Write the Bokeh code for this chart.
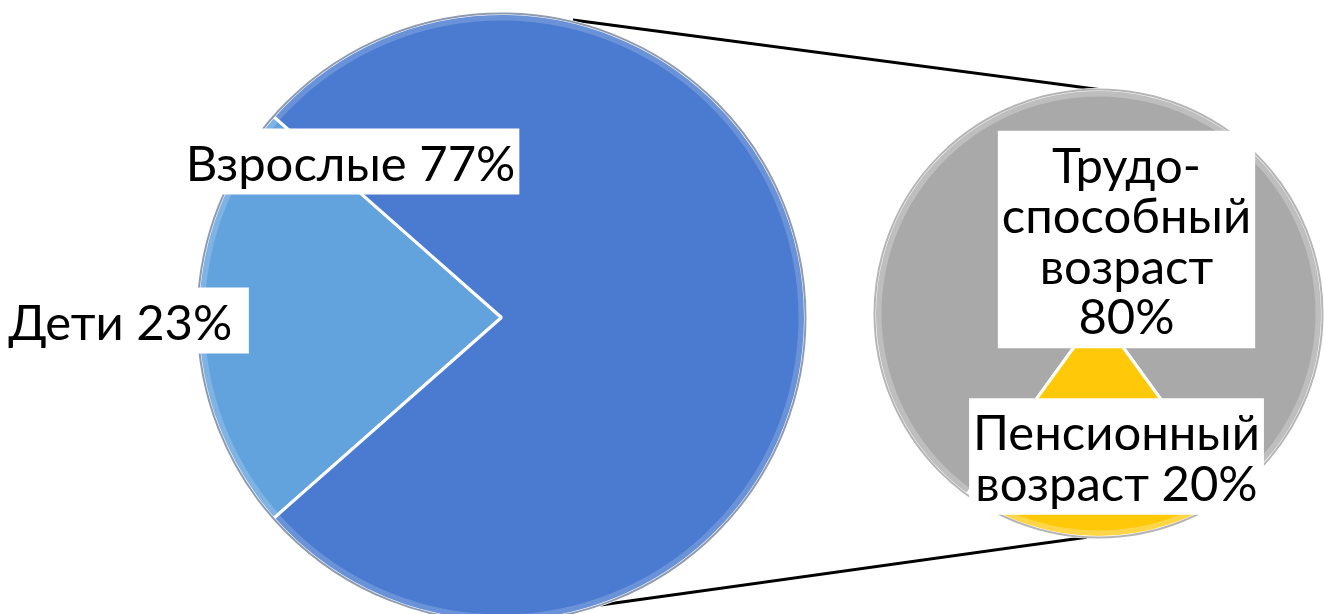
import math
from bokeh.plotting import figure
from bokeh.models import ColumnDataSource, Range1d
from bokeh.core.properties import value
from bokeh.embed import file_html
from bokeh.resources import INLINE

# ---- data ----
main_labels = ["Дети ", "Взрослые"]
main_values = [23, 77]
main_colors = ["#62A3DE", "#4A7BD0"]

sub_labels = ["Трудо-\nспособный\nвозраст\n", "Пенсионный\nвозраст "]
sub_values = [80, 20]
sub_colors = ["#A9A9A9", "#FFC90A"]

# ---- layout ----
W, H = 1324, 614
main_cx, main_cy, main_r = 501, H - 317, 304
sub_cx, sub_cy, sub_r = 1098, H - 313, 224

p = figure(width=W, height=H, output_backend="svg", toolbar_location=None,
           x_range=Range1d(0, W), y_range=Range1d(0, H), min_border=0)
p.axis.visible = False
p.grid.visible = False
p.outline_line_color = None
p.background_fill_color = "white"


def angles(values, first_center_deg):
    total = float(sum(values))
    span0 = values[0] / total * 2 * math.pi
    start = math.radians(first_center_deg) - span0 / 2
    starts, ends = [], []
    for v in values:
        a = v / total * 2 * math.pi
        starts.append(start)
        ends.append(start + a)
        start += a
    return starts, ends


def pt(cx, cy, r, deg):
    return cx + r * math.cos(math.radians(deg)), cy + r * math.sin(math.radians(deg))

# connector lines (behind pies)
t0 = pt(main_cx, main_cy, main_r + 2, 76.5)
t1 = pt(sub_cx, sub_cy, sub_r, 90)
b0 = pt(main_cx, main_cy, main_r, -71)
b1 = pt(sub_cx, sub_cy, sub_r, 267)
p.segment(x0=[t0[0], b0[0]], y0=[t0[1], b0[1]], x1=[t1[0], b1[0]], y1=[t1[1], b1[1]],
          line_color="black", line_width=3)

# main pie
ms, me = angles(main_values, 180)
src_main = ColumnDataSource(dict(start=ms, end=me, color=main_colors))
p.wedge(x=main_cx, y=main_cy, radius=main_r, radius_units="screen",
        start_angle="start", end_angle="end", fill_color="color",
        line_color="white", line_width=3, source=src_main)
p.annular_wedge(x=main_cx, y=main_cy, inner_radius=main_r - 7, outer_radius=main_r,
                inner_radius_units="screen", outer_radius_units="screen",
                start_angle="start", end_angle="end", fill_color="white", fill_alpha=0.18,
                line_color=None, source=src_main)
p.circle(x=[main_cx], y=[main_cy], radius=main_r, radius_units="screen",
         fill_color=None, line_color="#8E9BB0", line_width=2)

# secondary pie
ss, se = angles(sub_values[::-1], 270)
src_sub = ColumnDataSource(dict(start=ss[::-1], end=se[::-1], color=sub_colors))
p.wedge(x=sub_cx, y=sub_cy, radius=sub_r, radius_units="screen",
        start_angle="start", end_angle="end", fill_color="color",
        line_color="white", line_width=3, source=src_sub)
p.annular_wedge(x=sub_cx, y=sub_cy, inner_radius=sub_r - 7, outer_radius=sub_r,
                inner_radius_units="screen", outer_radius_units="screen",
                start_angle="start", end_angle="end", fill_color="white", fill_alpha=0.25,
                line_color=None, source=src_sub)
p.circle(x=[sub_cx], y=[sub_cy], radius=sub_r, radius_units="screen",
         fill_color=None, line_color="#B5B5B5", line_width=2)

# labels
main_text = [f"{l} {v}%" for l, v in zip(main_labels, main_values)]
sub_text = [f"{l}{v}%" for l, v in zip(sub_labels, sub_values)]
lab = ColumnDataSource(dict(
    x=[126, 350, 1126, 1116],
    y=[H - 320, H - 161, H - 239, H - 456],
    text=main_text + sub_text,
))
p.text(x="x", y="y", text="text", source=lab, text_font=value("Lato"),
       text_font_size=value("49px"), text_align="center", text_baseline="middle",
       text_color="black", text_line_height=0.87,
       background_fill_color="white", padding=4)

open("out.html", "w").write(file_html(p, INLINE))
